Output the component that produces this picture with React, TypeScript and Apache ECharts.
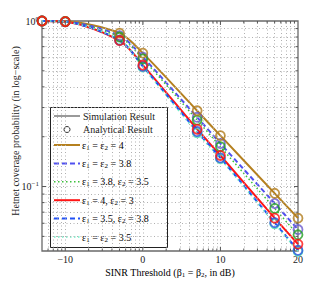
import React, { useEffect, useRef } from 'react';
import * as echarts from 'echarts';

const FONT = '"Liberation Serif", "Times New Roman", serif';

// SINR threshold (dB) at which the curves were sampled
const X_DB = [-13, -10, -3, 0, 7, 10, 17, 20];
// Coverage probabilities
const P_4_4 = [1.0, 0.995, 0.845, 0.64, 0.287, 0.203, 0.091, 0.0644];
const P_38_38 = [1.0, 0.993, 0.815, 0.605, 0.262, 0.182, 0.079, 0.055];
const P_38_35 = [1.0, 0.992, 0.8, 0.59, 0.252, 0.174, 0.0737, 0.0511];
const P_4_3 = [1.0, 0.99, 0.762, 0.542, 0.222, 0.154, 0.0644, 0.0449];
const P_35_38 = [1.0, 0.99, 0.765, 0.532, 0.215, 0.149, 0.0605, 0.0412];
const P_35_35 = [1.0, 0.989, 0.768, 0.527, 0.211, 0.147, 0.0596, 0.0406];

const X_LABELS = [-10, 0, 10, 20];
const X_MIN = -13;
const X_MAX = 20;
const Y_MIN = 0.0408;
const Y_MAX = 1;

const CURVES = [
  { e1: '4', e2: '4', same: true, data: P_4_4, color: '#b5801f', mark: '#b07a1a', dash: 'solid', width: 2, zm: 8 },
  { e1: '3.8', e2: '3.8', same: true, data: P_38_38, color: '#5050f0', mark: '#6a5acd', dash: [5, 3], width: 2, zm: 6 },
  { e1: '3.8', e2: '3.5', same: false, data: P_38_35, color: '#3cc03c', mark: '#22a022', dash: [1.5, 2.5], width: 1.5, zm: 7 },
  { e1: '4', e2: '3', same: false, data: P_4_3, color: '#ff1515', mark: '#ff1010', dash: 'solid', width: 2, zm: 9 },
  { e1: '3.5', e2: '3.8', same: false, data: P_35_38, color: '#2050f5', mark: '#3050e0', dash: [5, 3], width: 2, zm: 5 },
  { e1: '3.5', e2: '3.5', same: true, data: P_35_35, color: '#70eec8', mark: '#40e0b0', dash: [1.5, 2.5], width: 1.5, zm: 4 },
];

// grid / tick positions (log-spaced minor divisions in both directions)
const Y_GRID = [0.05, 0.06, 0.07, 0.08, 0.09, 0.1, 0.2, 0.3, 0.4, 0.5, 0.6, 0.7, 0.8, 0.9];
const X_GRID: number[] = [];
[-20, -10, 0, 10].forEach((d) => {
  for (let k = 1; k <= 9; k++) {
    const v = d + 10 * Math.log10(k);
    if (v > X_MIN + 0.01 && v < X_MAX - 0.01) X_GRID.push(v);
  }
});

const richText = {
  n: { fontFamily: FONT, fontSize: 10, color: '#1a1a1a', lineHeight: 12 },
  s: { fontFamily: FONT, fontSize: 7, color: '#1a1a1a', lineHeight: 6, verticalAlign: 'bottom' },
};

function epsLabel(c: any) {
  if (c.same) return `{n|ε}{s|1}{n| = ε}{s|2}{n| = ${c.e1}}`;
  return `{n|ε}{s|1}{n| = ${c.e1}, ε}{s|2}{n| = ${c.e2}}`;
}

export default function App() {
  const ref = useRef<HTMLDivElement>(null);
  useEffect(() => {
    if (!ref.current) return;
    const chart = echarts.init(ref.current, undefined, { renderer: 'svg' });

    const tickData: number[][] = [];
    X_GRID.forEach((v) => {
      const major = X_LABELS.some((m) => Math.abs(m - v) < 1e-6);
      tickData.push([v, Y_MIN, 0, major ? 4 : 2.5]);
    });
    Y_GRID.forEach((v) => {
      tickData.push([X_MIN, v, 1, Math.abs(v - 0.1) < 1e-9 ? 4 : 2.5]);
    });

    const legendChildren: any[] = [
      { type: 'rect', shape: { x: 50.5, y: 107.5, width: 117, height: 140 }, style: { fill: '#fff', stroke: '#222', lineWidth: 1 } },
      { type: 'line', shape: { x1: 54, y1: 116, x2: 80, y2: 116 }, style: { stroke: '#9a9a9a', lineWidth: 2 } },
      { type: 'text', x: 83, y: 116, style: { text: 'Simulation Result', fontFamily: FONT, fontSize: 10, fill: '#1a1a1a', verticalAlign: 'middle' } },
      { type: 'circle', shape: { cx: 67, cy: 129.5, r: 3 }, style: { fill: 'none', stroke: '#333', lineWidth: 1 } },
      { type: 'text', x: 83, y: 129.5, style: { text: 'Analytical Result', fontFamily: FONT, fontSize: 10, fill: '#1a1a1a', verticalAlign: 'middle' } },
    ];
    CURVES.forEach((c, i) => {
      const y = 145 + i * 18.4;
      legendChildren.push({
        type: 'line',
        shape: { x1: 54, y1: y, x2: 80, y2: y },
        style: { stroke: c.color, lineWidth: c.width, lineDash: c.dash === 'solid' ? null : c.dash },
      });
      legendChildren.push({
        type: 'text',
        x: 82,
        y,
        style: { text: epsLabel(c), rich: richText, verticalAlign: 'middle' },
      });
    });

    const series: any[] = [
      {
        type: 'line',
        data: [],
        z: 1,
        silent: true,
        markLine: {
          silent: true,
          symbol: 'none',
          label: { show: false },
          lineStyle: { color: '#b0b0b0', type: [1, 2.5], width: 1 },
          data: [
            ...X_GRID.map((v) => ({ xAxis: v })),
            ...Y_GRID.map((v) => ({ yAxis: v })),
          ],
        },
      },
      {
        type: 'custom',
        z: 20,
        silent: true,
        clip: false,
        data: tickData,
        encode: { x: 0, y: 1 },
        renderItem: (_p: any, api: any) => {
          const kind = api.value(2);
          const len = api.value(3);
          const style = { stroke: '#555', lineWidth: 1 };
          if (kind === 0) {
            const v = api.value(0);
            const b = api.coord([v, Y_MIN]);
            const t = api.coord([v, Y_MAX]);
            return {
              type: 'group',
              children: [
                { type: 'line', shape: { x1: b[0], y1: b[1], x2: b[0], y2: b[1] - len }, style },
                { type: 'line', shape: { x1: t[0], y1: t[1], x2: t[0], y2: t[1] + len }, style },
              ],
            };
          }
          const v = api.value(1);
          const l = api.coord([X_MIN, v]);
          const r = api.coord([X_MAX, v]);
          return {
            type: 'group',
            children: [
              { type: 'line', shape: { x1: l[0], y1: l[1], x2: l[0] + len, y2: l[1] }, style },
              { type: 'line', shape: { x1: r[0], y1: r[1], x2: r[0] - len, y2: r[1] }, style },
            ],
          };
        },
      },
    ];

    CURVES.forEach((c) => {
      series.push({
        type: 'line',
        name: `sim ${c.e1} ${c.e2}`,
        data: X_DB.map((x, i) => [x, c.data[i]]),
        showSymbol: false,
        smooth: 0.3,
        clip: false,
        silent: true,
        z: 3,
        lineStyle: { color: c.color, width: c.width, type: c.dash },
      });
    });
    CURVES.forEach((c) => {
      series.push({
        type: 'scatter',
        name: `ana ${c.e1} ${c.e2}`,
        data: X_DB.map((x, i) => [x, c.data[i]]),
        symbol: 'circle',
        symbolSize: 9,
        clip: false,
        silent: true,
        z: c.zm,
        itemStyle: { color: 'rgba(0,0,0,0)', borderColor: c.mark, borderWidth: 1.8 },
      });
    });

    chart.setOption({
      animation: false,
      backgroundColor: '#fff',
      grid: { left: 42, top: 21, width: 256, height: 230, show: true, borderColor: '#6a6a6a', borderWidth: 1.3, backgroundColor: 'transparent' },
      xAxis: {
        type: 'value',
        min: X_MIN,
        max: X_MAX,
        interval: 1,
        axisLine: { show: false },
        axisTick: { show: false },
        splitLine: { show: false },
        axisLabel: {
          interval: 0,
          margin: 3,
          fontFamily: FONT,
          fontSize: 10,
          lineHeight: 10,
          color: '#1a1a1a',
          formatter: (v: number) => (X_LABELS.indexOf(Math.round(v)) >= 0 && Math.abs(v - Math.round(v)) < 1e-6 ? String(v).replace('-', '−') : ''),
        },
      },
      yAxis: {
        type: 'log',
        logBase: 10,
        min: Y_MIN,
        max: Y_MAX,
        axisLine: { show: false },
        axisTick: { show: false },
        splitLine: { show: false },
        minorTick: { show: false },
        axisLabel: {
          margin: 3,
          formatter: (v: number) => {
            const l = Math.log10(v);
            const r = Math.round(l);
            if (Math.abs(l - r) > 1e-6) return '';
            return `{b|10}{p|${r === 0 ? '0' : '−' + -r}}`;
          },
          rich: {
            b: { fontFamily: FONT, fontSize: 10, color: '#1a1a1a', lineHeight: 12 },
            p: { fontFamily: FONT, fontSize: 7, color: '#1a1a1a', lineHeight: 6, verticalAlign: 'top' },
          },
        },
      },
      graphic: [
        {
          type: 'text',
          x: 15,
          y: 131,
          rotation: Math.PI / 2,
          style: {
            text: 'Hetnet coverage probability (in log−scale)',
            fontFamily: FONT,
            fontSize: 10,
            fill: '#1a1a1a',
            align: 'center',
            verticalAlign: 'middle',
          },
        },
        {
          type: 'text',
          x: 170,
          y: 272,
          style: {
            text: '{n|SINR Threshold (β}{s|1}{n| = β}{s|2}{n|, in dB)}',
            rich: richText,
            align: 'center',
            verticalAlign: 'middle',
          },
        },
        { type: 'group', z: 100, children: legendChildren },
      ],
      series,
    });
    return () => chart.dispose();
  }, []);
  return <div ref={ref} style={{ position: 'fixed', left: 0, top: 0, width: 329, height: 283 }} />;
}
